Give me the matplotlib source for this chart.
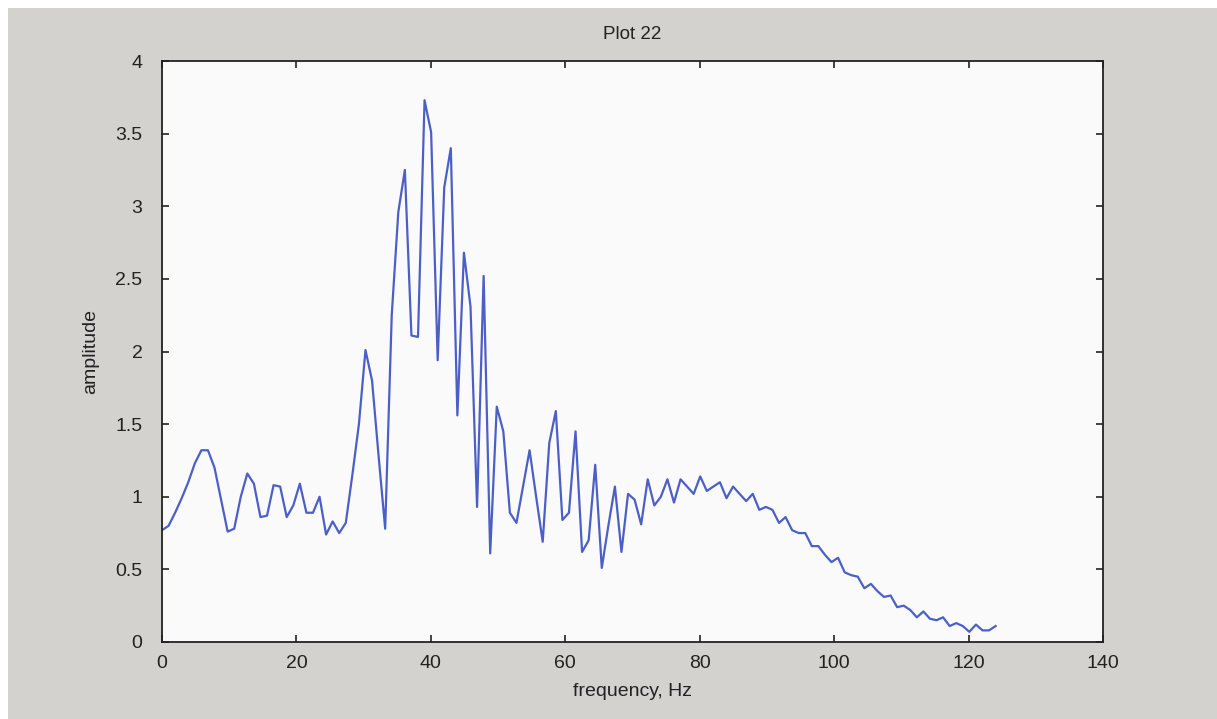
import numpy as np
import matplotlib
matplotlib.use("Agg")
import matplotlib.pyplot as plt
from matplotlib.patches import Rectangle

# ---- data ----
n_points = 128
freq_step = 250.0 / 256.0  # Hz per sample
frequency = np.arange(n_points) * freq_step

amplitude = [
    0.77, 0.80, 0.89, 0.99, 1.10, 1.23, 1.32, 1.32, 1.20, 0.98,
    0.76, 0.78, 1.00, 1.16, 1.09, 0.86, 0.87, 1.08, 1.07, 0.86,
    0.94, 1.09, 0.89, 0.89, 1.00, 0.74, 0.83, 0.75, 0.82, 1.15,
    1.50, 2.01, 1.80, 1.28, 0.78, 2.25, 2.96, 3.25, 2.11, 2.10,
    3.73, 3.51, 1.94, 3.13, 3.40, 1.56, 2.68, 2.31, 0.93, 2.52,
    0.61, 1.62, 1.45, 0.89, 0.82, 1.07, 1.32, 1.00, 0.69, 1.37,
    1.59, 0.84, 0.89, 1.45, 0.62, 0.70, 1.22, 0.51, 0.80, 1.07,
    0.62, 1.02, 0.98, 0.81, 1.12, 0.94, 1.00, 1.12, 0.96, 1.12,
    1.07, 1.02, 1.14, 1.04, 1.07, 1.10, 0.99, 1.07, 1.02, 0.97,
    1.02, 0.91, 0.93, 0.91, 0.82, 0.86, 0.77, 0.75, 0.75, 0.66,
    0.66, 0.60, 0.55, 0.58, 0.48, 0.46, 0.45, 0.37, 0.40, 0.35,
    0.31, 0.32, 0.24, 0.25, 0.22, 0.17, 0.21, 0.16, 0.15, 0.17,
    0.11, 0.13, 0.11, 0.07, 0.12, 0.08, 0.08, 0.11,
]

xticks = [0, 20, 40, 60, 80, 100, 120, 140]
xtick_labels = ["0", "20", "40", "60", "80", "100", "120", "140"]
yticks = [0, 0.5, 1, 1.5, 2, 2.5, 3, 3.5, 4]
ytick_labels = ["0", "0.5", "1", "1.5", "2", "2.5", "3", "3.5", "4"]

title = "Plot 22"
xlabel = "frequency, Hz"
ylabel = "amplitude"

# ---- figure ----
plt.rcParams['font.family'] = ['Liberation Sans', 'DejaVu Sans']
W, H = 1217, 719
fig = plt.figure(figsize=(W / 100, H / 100), dpi=100, facecolor="#d4d2ce")
# thin white margin at the top and left of the scan
fig.add_artist(Rectangle((0, 1 - 8 / H), 1, 8 / H, transform=fig.transFigure,
                         facecolor="white", edgecolor="none", zorder=-5))
fig.add_artist(Rectangle((0, 0), 8 / W, 1, transform=fig.transFigure,
                         facecolor="white", edgecolor="none", zorder=-5))

left, right, bottom, top = 162 / W, 1103 / W, 1 - 642 / H, 1 - 61 / H
ax = fig.add_axes([left, bottom, right - left, top - bottom])
ax.set_facecolor("#fafafa")

ax.plot(frequency, amplitude, color="#4c5fc8", linewidth=1.6)

ax.set_xlim(0, 140)
ax.set_ylim(0, 4)
ax.set_xticks(xticks)
ax.set_xticklabels(xtick_labels)
ax.set_yticks(yticks)
ax.set_yticklabels(ytick_labels)

ax.tick_params(direction="in", length=5, width=1.2, colors="#222222",
               labelsize=14, top=True, right=True)
ax.tick_params(axis="x", pad=9)
ax.tick_params(axis="y", pad=14)
for s in ax.spines.values():
    s.set_color("#222222")
    s.set_linewidth(1.3)

ax.set_title(title, fontsize=13.5, color="#222222", pad=16)
ax.set_xlabel(xlabel, fontsize=14, color="#222222", labelpad=8)
ax.set_ylabel(ylabel, fontsize=14, color="#222222", labelpad=12)

fig.savefig("out.png", dpi=100, facecolor=fig.get_facecolor())
